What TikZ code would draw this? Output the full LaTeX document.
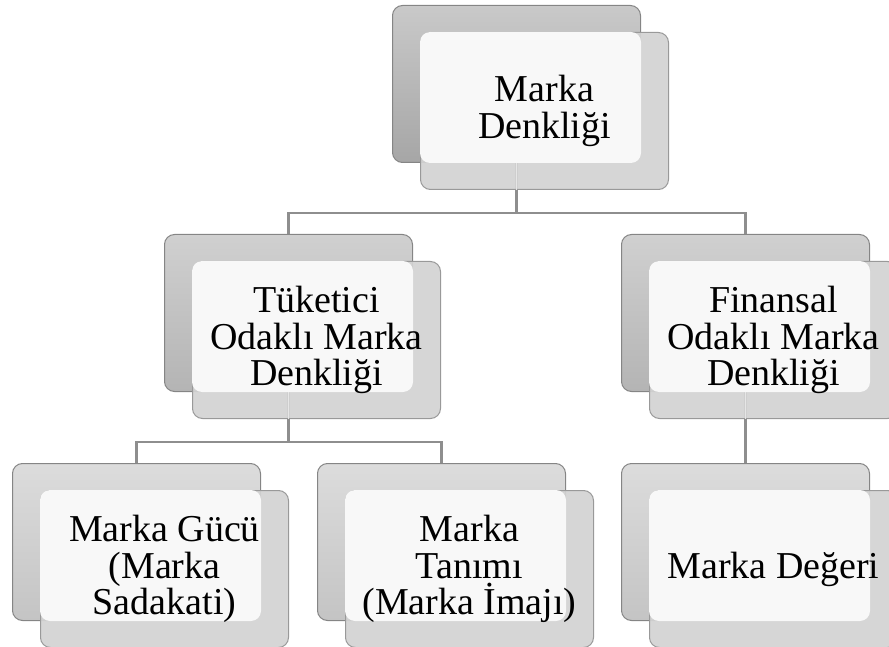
\documentclass[tikz,border=0pt]{standalone}
\usepackage{fontspec}
\setmainfont{Liberation Serif}
\usetikzlibrary{calc}
\definecolor{frontgray}{HTML}{D3D3D3}
\definecolor{linegray}{HTML}{8E8E8E}
\definecolor{edgegray}{HTML}{858585}
\definecolor{frontedge}{HTML}{999999}
\definecolor{paper}{HTML}{F8F8F8}
\definecolor{seamgray}{HTML}{E6E6E6}
\definecolor{lvltopA}{HTML}{C9C9C9}
\definecolor{lvlbotA}{HTML}{A6A6A6}
\definecolor{lvltopB}{HTML}{D0D0D0}
\definecolor{lvlbotB}{HTML}{B4B4B4}
\definecolor{lvltopC}{HTML}{DCDCDC}
\definecolor{lvlbotC}{HTML}{C4C4C4}
\begin{document}
\begin{tikzpicture}[x=1pt,y=-1pt,
  backbox/.style={draw=edgegray, line width=1pt, rounded corners=10pt,
    minimum width=248pt, minimum height=157pt, inner sep=0pt, anchor=north west},
  lvlA/.style={backbox, top color=lvltopA, bottom color=lvlbotA},
  lvlB/.style={backbox, top color=lvltopB, bottom color=lvlbotB},
  lvlC/.style={backbox, top color=lvltopC, bottom color=lvlbotC},
  frontbox/.style={draw=frontedge, line width=1pt, fill=frontgray, fill opacity=0.93,
    rounded corners=10pt, minimum width=248pt, minimum height=157pt, inner sep=0pt,
    anchor=north west},
  paperbox/.style={fill=paper, rounded corners=10pt},
  conn/.style={draw=linegray, line width=2.2pt},
  seam/.style={draw=seamgray, line width=1.4pt},
  lbl/.style={align=center, inner sep=0pt, text=black,
    font=\fontsize{38}{36.5}\selectfont}
]
\useasboundingbox (0,0) rectangle (889,647);
\clip (0,0) rectangle (889,647);

% back boxes
\node[lvlA] (md-b) at (392,5) {};
\node[lvlB] (to-b) at (164,234) {};
\node[lvlB] (fo-b) at (621,234) {};
\node[lvlC] (mg-b) at (12,463) {};
\node[lvlC] (mt-b) at (317,463) {};
\node[lvlC] (mv-b) at (621,463) {};

% connectors
\coordinate (j1) at ($(md-b.south)+(0,50)$);
\coordinate (j2) at ($(to-b.south)+(0,50)$);
\draw[conn] (md-b.south) -- (j1) -| (to-b.north);
\draw[conn] (j1) -| (fo-b.north);
\draw[conn] (to-b.south) -- (j2) -| (mg-b.north);
\draw[conn] (j2) -| (mt-b.north);
\draw[conn] (fo-b.south) -- (mv-b.north);

% front boxes
\node[frontbox] (md-f) at (420,32) {};
\node[frontbox] (to-f) at (192,261) {};
\node[frontbox] (fo-f) at (649,261) {};
\node[frontbox] (mg-f) at (40,490) {};
\node[frontbox] (mt-f) at (345,490) {};
\node[frontbox] (mv-f) at (649,490) {};

% seams
\draw[seam] (md-b.south) -- (md-b.south |- md-f.south);
\draw[seam] (to-b.south) -- (to-b.south |- to-f.south);
\draw[seam] (fo-b.south) -- (fo-b.south |- fo-f.south);

% paper areas
\fill[paperbox] (md-f.north west) rectangle (md-b.south east);
\fill[paperbox] (to-f.north west) rectangle (to-b.south east);
\fill[paperbox] (fo-f.north west) rectangle (fo-b.south east);
\fill[paperbox] (mg-f.north west) rectangle (mg-b.south east);
\fill[paperbox] (mt-f.north west) rectangle (mt-b.south east);
\fill[paperbox] (mv-f.north west) rectangle (mv-b.south east);

% labels
\node[lbl] (md-t) at (md-f.center) {Marka\\Denkliği};
\node[lbl] (to-t) at (to-f.center) {Tüketici\\Odaklı Marka\\Denkliği};
\node[lbl] (fo-t) at (fo-f.center) {Finansal\\Odaklı Marka\\Denkliği};
\node[lbl] (mg-t) at (mg-f.center) {Marka Gücü\\(Marka\\Sadakati)};
\node[lbl] (mt-t) at (mt-f.center) {Marka\\Tanımı\\(Marka İmajı)};
\node[lbl] (mv-t) at (mv-f.center) {Marka Değeri};
\end{tikzpicture}
\end{document}
